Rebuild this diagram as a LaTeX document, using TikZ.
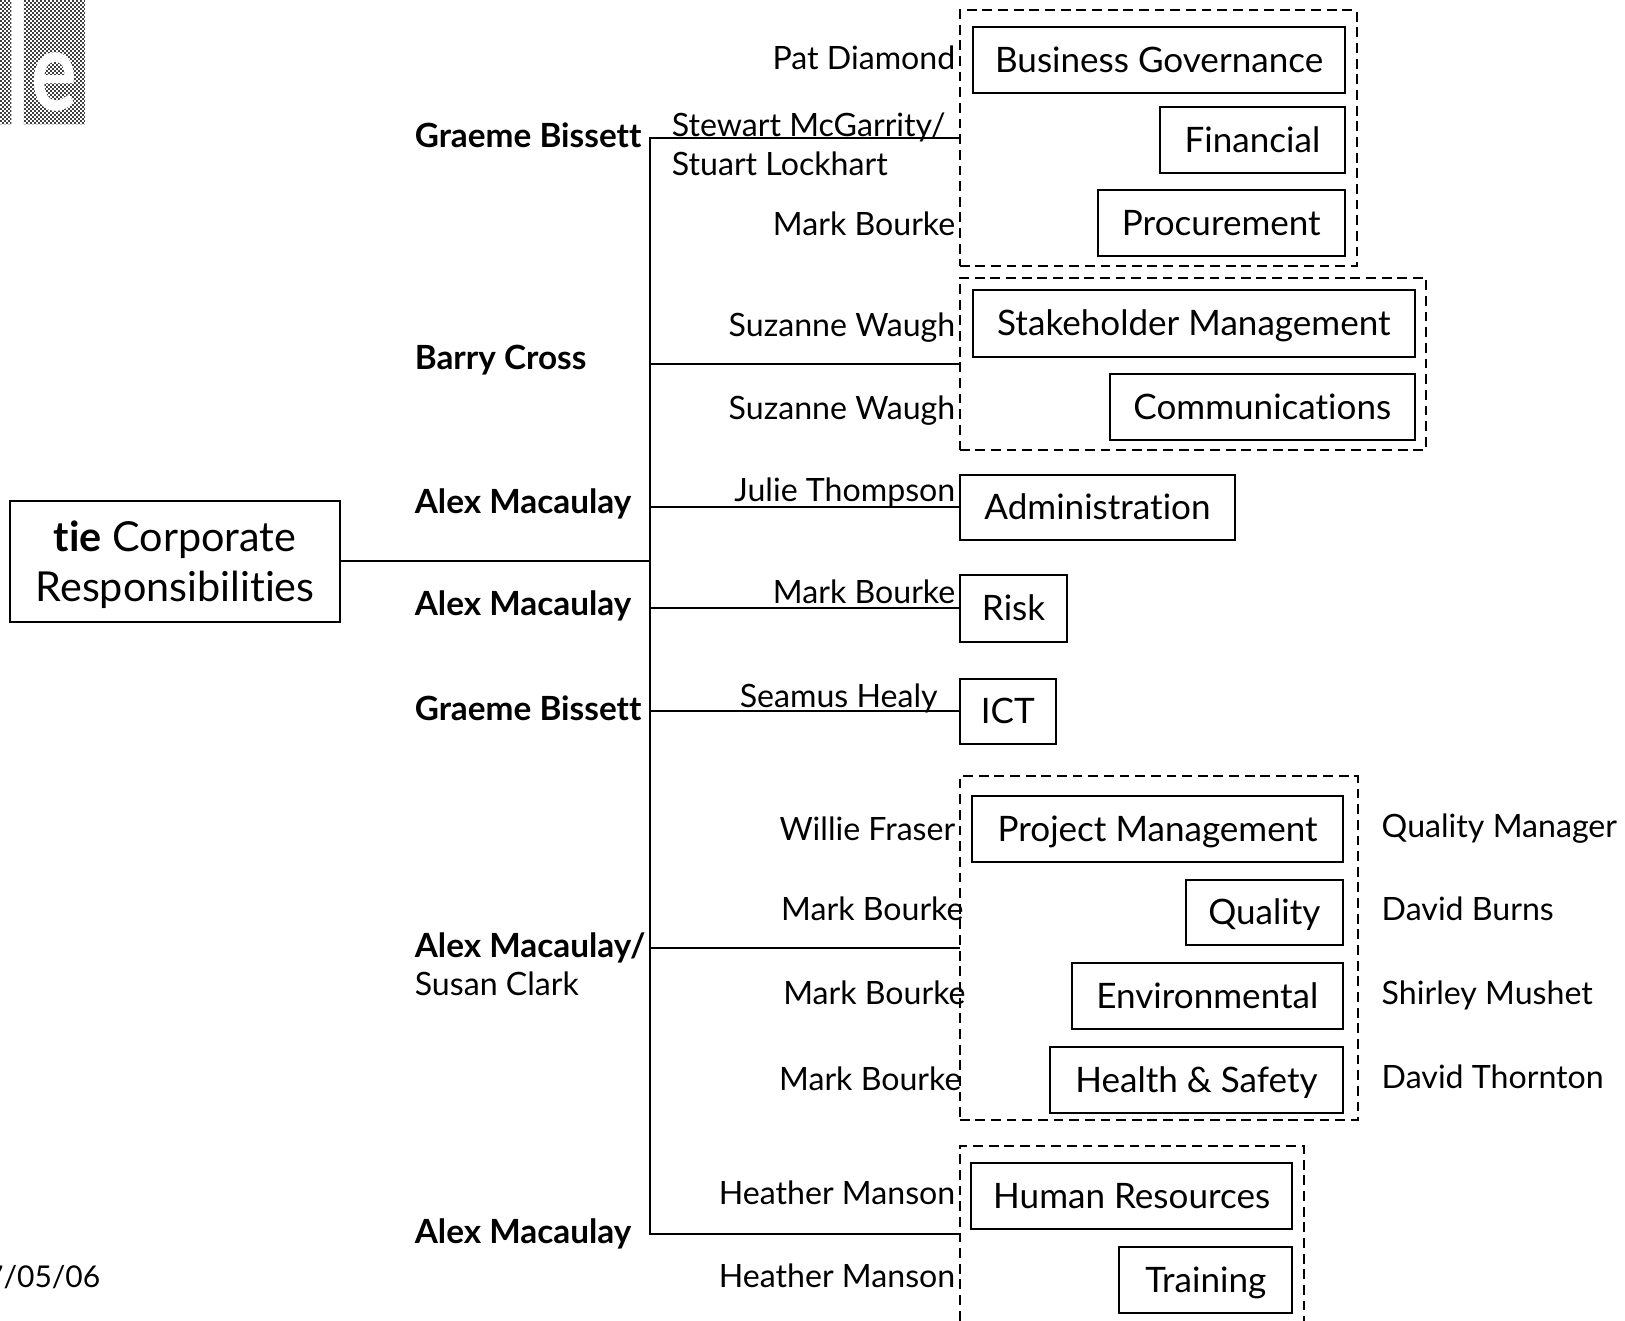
\documentclass[tikz,border=0pt]{standalone}
\usepackage{graphicx}
\usepackage{fontspec}
\setmainfont{Lato}[Ligatures=CommonOff]
\newlength\uu
\setlength\uu{0.7773pt}
\newcommand{\boxfont}{\fontsize{26.3}{32}\selectfont}
\newcommand{\lblfont}{\fontsize{24.1}{30}\selectfont}
\tikzset{
  x=\uu, y=-\uu,
  ln/.style={draw=black, line width=1.5pt, line cap=rect},
  grp/.style={draw=black, line width=1.5pt, dash pattern=on 9.5\uu off 5.6\uu, rectangle, inner sep=0pt, fill=none},
  bx/.style={draw=black, line width=1.5pt, rectangle, inner sep=0pt, font=\boxfont, text height=24pt, text depth=5.3pt},
  mainbx/.style={draw=black, line width=1.5pt, rectangle, inner sep=0pt, align=center, font=\fontsize{31}{37.5}\selectfont},
  lbl/.style={inner sep=0pt, font=\lblfont, text=black},
  lr/.style={lbl, anchor=base east},
  ll/.style={lbl, anchor=base west},
  lb/.style={lbl, anchor=base west, font=\fontsize{25}{30}\selectfont\bfseries},
}
\newcommand{\bxn}[6]{\node[bx, minimum width={(#4-#2)*\uu}, minimum height={(#5-#3)*\uu}] (#1) at ({(#2+#4)/2},{(#3+#5)/2}) {#6};}
\newcommand{\grpn}[5]{\node[grp, minimum width={(#4-#2)*\uu}, minimum height={(#5-#3)*\uu}] (#1) at ({(#2+#4)/2},{(#3+#5)/2}) {};}
\begin{document}
\begin{tikzpicture}
\useasboundingbox (0,0) rectangle (1568,1273.7);
% logo
\begin{scope}
\clip (0,0) rectangle (11,120) (23,0) rectangle (82,120);
\foreach \i in {0,...,21}{\foreach \j in {0,...,62}{
  \fill[black!75] ({\i*3.86+mod(\j,2)*1.93},{\j*1.93}) rectangle +(1.6,1.6);
}}
\end{scope}
\node[inner sep=0pt, anchor=base, text=white, font=\fontsize{64}{64}\selectfont\bfseries] (logoe) at (52,107) {\scalebox{1}[1.3]{e}};
\node[lbl, anchor=base east, font=\fontsize{22.5}{28}\selectfont] (date) at (97,1242) {7/05/06};
% main
\node[mainbx, minimum width={318*\uu}, minimum height={117*\uu}] (main) at (169,541.5) {\rule{0pt}{28.5pt}\textbf{tie} Corporate\\Responsibilities};
\coordinate (tt) at (627,133);
\coordinate (tb) at (627,1191);
\coordinate (tm) at (627,541);
\coordinate (t1) at (627,133);
\coordinate (t2) at (627,351);
\coordinate (t3) at (627,489);
\coordinate (t4) at (627,587);
\coordinate (t5) at (627,686);
\coordinate (t6) at (627,915);
\coordinate (t7) at (627,1191);
% groups
\grpn{g1}{926}{10}{1309}{257}
\grpn{g2}{926}{268}{1376}{434}
\grpn{g3}{926}{749}{1310}{1081}
\grpn{g4}{926}{1106}{1258}{1310}
% boxes
\bxn{bg}{939}{26}{1298}{90}{Business Governance}
\bxn{fin}{1119}{103}{1298}{167}{Financial}
\bxn{proc}{1059}{183}{1298}{247}{Procurement}
\bxn{stake}{939}{280}{1365}{344}{Stakeholder Management}
\bxn{comm}{1071}{361}{1365}{425}{Communications}
\bxn{admin}{926}{458}{1192}{521}{Administration}
\bxn{risk}{926}{555}{1030}{619}{Risk}
\bxn{ict}{926}{655}{1019}{718}{ICT}
\bxn{pm}{938}{768}{1296}{832}{Project Management}
\bxn{qual}{1144}{849}{1296}{912}{Quality}
\bxn{env}{1034}{929}{1296}{993}{Environmental}
\bxn{hs}{1013}{1010}{1296}{1074}{Health \& Safety}
\bxn{hr}{937}{1122}{1247}{1186}{Human Resources}
\bxn{tr}{1080}{1203}{1247}{1267}{Training}
% connectors
\draw[ln] (tt) -- (tb);
\draw[ln] (main.east |- tm) -- (tm);
\draw[ln] (t1) -- (g1.west |- t1);
\draw[ln] (t2) -- (g2.west |- t2);
\draw[ln] (t3) -- (admin.west |- t3);
\draw[ln] (t4) -- (risk.west |- t4);
\draw[ln] (t5) -- (ict.west |- t5);
\draw[ln] (t6) -- (g3.west |- t6);
\draw[ln] (t7) -- (g4.west |- t7);
% left labels
\node[lb] (a1) at (400,142) {Graeme Bissett};
\node[lb] (a2) at (400,357) {Barry Cross};
\node[lb] (a3) at (400,495) {Alex Macaulay};
\node[lb] (a4) at (400,594) {Alex Macaulay};
\node[lb] (a5) at (400,695) {Graeme Bissett};
\node[lb] (a6) at (400,924) {Alex Macaulay/};
\node[ll] (a6b) at (400,961) {Susan Clark};
\node[lb] (a7) at (400,1200) {Alex Macaulay};
% people
\node[lr] (p1) at (922,67) {Pat Diamond};
\node[ll] (p2) at (648,132) {Stewart McGarrity/};
\node[ll] (p2b) at (648,169) {Stuart Lockhart};
\node[lr] (p3) at (922,227) {Mark Bourke};
\node[lr] (p4) at (922,325) {Suzanne Waugh};
\node[lr] (p5) at (922,405) {Suzanne Waugh};
\node[lr] (p6) at (922,484) {Julie Thompson};
\node[lr] (p7) at (922,582) {Mark Bourke};
\node[lr] (p8) at (905,683) {Seamus Healy};
\node[lr] (p9) at (922,811) {Willie Fraser};
\node[lr] (p10) at (930,888) {Mark Bourke};
\node[lr] (p11) at (932,969) {Mark Bourke};
\node[lr] (p12) at (928,1052) {Mark Bourke};
\node[lr] (p13) at (922,1162) {Heather Manson};
\node[lr] (p14) at (922,1242) {Heather Manson};
% right
\node[ll] (q1) at (1333,808) {Quality Manager};
\node[ll] (q2) at (1333,888) {David Burns};
\node[ll] (q3) at (1333,969) {Shirley Mushet};
\node[ll] (q4) at (1333,1050) {David Thornton};
\end{tikzpicture}
\end{document}
